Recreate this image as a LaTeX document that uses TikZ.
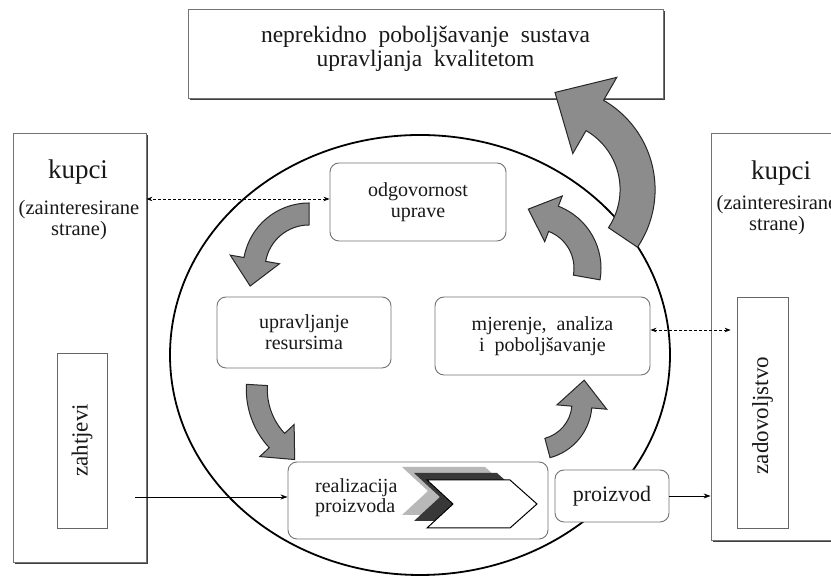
\documentclass[tikz,border=0pt]{standalone}
\usepackage{fontspec}
\setmainfont{Liberation Serif}
\usetikzlibrary{calc,arrows.meta,shadows}
\newcommand\fsz[2]{\fontsize{#1}{#2}\selectfont}
% curved block arrow: #1 centre, #2 radius, #3 body width, #4 start angle, #5 end angle, #6 head width, #7 head length
\newcommand\curvarrow[7]{%
 \pgfmathsetmacro\cvRo{#2+#3/2}%
 \pgfmathsetmacro\cvRi{#2-#3/2}%
 \pgfmathsetmacro\cvHo{#2+#6/2}%
 \pgfmathsetmacro\cvHi{#2-#6/2}%
 \pgfmathsetmacro\cvTa{#5+90}%
 \draw[garrow] ($(#1)+(#4:\cvRo)$) arc[start angle=#4,end angle=#5,radius=\cvRo]
   -- ($(#1)+(#5:\cvHo)$) -- ($(#1)+(#5:#2)+(\cvTa:#7)$) -- ($(#1)+(#5:\cvHi)$)
   -- ($(#1)+(#5:\cvRi)$) arc[start angle=#5,end angle=#4,radius=\cvRi] -- cycle;}
\tikzset{
 garrow/.style={fill=black!45, draw=black!85, line width=1pt},
 rbox/.style={draw=black!55, line width=0.9pt, rounded corners=9pt, fill=white, align=center,
   inner sep=0pt, text=black!90, font=\fsz{20}{21}},
 sbox/.style={draw=black!55, line width=0.8pt, fill=white, inner sep=0pt,
   drop shadow={shadow xshift=1.6pt, shadow yshift=-1.6pt, fill=black!75, opacity=1}},
 ibox/.style={draw=black!60, line width=0.8pt, fill=white, inner sep=0pt},
 lbl/.style={text=black!90, align=center, inner sep=0pt},
 darr/.style={dash pattern=on 3pt off 2pt, line width=0.8pt, {Stealth[length=6pt,width=4.5pt]}-{Stealth[length=6pt,width=4.5pt]}},
 sarr/.style={line width=0.8pt, -{Stealth[length=7pt,width=5pt]}}
}
\begin{document}
\begin{tikzpicture}[x=1pt,y=1pt]
\useasboundingbox (0,0) rectangle (831,577);
\clip (0,0) rectangle (831,577);
\fill[white] (0,0) rectangle (831,577);
% big circle
\draw[line width=1.8pt] (420,222) ellipse [x radius=250, y radius=220];
% top box
\node[sbox, minimum width=475pt, minimum height=89pt] (top) at (425.5,523.5) {};
\node[lbl, font=\fsz{23.5}{24}] (toptxt) at (425.5,528) {neprekidno\ \ poboljšavanje\ \ sustava\\upravljanja\ \ kvalitetom};
% side boxes
\node[sbox, minimum width=133pt, minimum height=429pt] (lbox) at (79.5,229.5) {};
\node[sbox, minimum width=139pt, minimum height=407pt] (rbox) at (780.5,240.5) {};
\node[lbl, font=\fsz{27}{27}] (kl) at (78,405) {kupci};
\node[lbl, font=\fsz{20.5}{21}] (zl) at (79,357) {(zainteresirane\\strane)};
\node[lbl, font=\fsz{27}{27}] (kr) at (781,404) {kupci};
\node[lbl, font=\fsz{20.5}{21}] (zr) at (777,362) {(zainteresirane\\strane)};
\node[ibox, minimum width=50pt, minimum height=175pt] (zah) at (82,136.5) {};
\node[lbl, rotate=90, font=\fsz{23}{23}] (zaht) at (zah.center) {zahtjevi};
\node[ibox, minimum width=51pt, minimum height=231pt] (zad) at (762.5,164.5) {};
\node[lbl, rotate=90, font=\fsz{23}{23}] (zadt) at ([yshift=-3pt]zad.center) {zadovoljstvo};
% process boxes
\node[rbox, minimum width=176pt, minimum height=78pt] (odg) at (418,375) {odgovornost\\uprave};
\node[rbox, minimum width=174pt, minimum height=71pt] (upr) at (304,244.5) {upravljanje\\resursima};
\node[rbox, minimum width=215pt, minimum height=78pt] (mj) at (542.5,241) {mjerenje,\ \ analiza\\i\ \ poboljšavanje};
\node[rbox, minimum width=260pt, minimum height=77pt] (real) at (418,76.5) {};
\node[lbl, anchor=west, align=left, font=\fsz{20}{20}] (realt) at (315,79) {realizacija\\proizvoda};
\node[rbox, minimum width=114pt, minimum height=52pt, font=\fsz{22}{22}] (prod) at (612,81) {proizvod};
% chevrons
\fill[black!28, shift={(-25,13)}] (427,97) -- (510,97) -- (537,73) -- (510,49) -- (427,49) -- (453,73) -- cycle;
\fill[black!78, shift={(-13,7)}] (427,97) -- (510,97) -- (537,73) -- (510,49) -- (427,49) -- (453,73) -- cycle;
\draw[fill=white, line width=1pt] (427,97) -- (510,97) -- (537,73) -- (510,49) -- (427,49) -- (453,73) -- cycle;
% curved block arrows
\coordinate (c1) at (309,308);
\coordinate (c2) at (534.5,308.7);
\coordinate (c3) at (331.8,187.6);
\coordinate (c4) at (535.4,174);
\coordinate (c5) at (552,387.4);
\curvarrow{c1}{55}{22}{90}{170}{50}{27}
\curvarrow{c2}{53}{27}{-10}{69}{49}{27}
\curvarrow{c3}{75}{21}{176.6}{223}{47}{26}
\curvarrow{c4}{46.6}{20}{285}{355}{50}{27}
\curvarrow{c5}{85.6}{35}{326}{420}{88}{46}
% connectors
\draw[darr] ([yshift=3pt]odg.west) -- ([yshift=3pt]odg.west -| lbox.east);
\draw[darr] ([yshift=6pt]mj.east) -- ([yshift=6pt,xshift=-6pt]mj.east -| zad.west);
\coordinate (s1) at (135,80);
\draw[sarr] (s1) -- (s1 -| real.west);
\draw[sarr] (prod.east) -- (prod.east -| rbox.west);
\end{tikzpicture}
\end{document}
